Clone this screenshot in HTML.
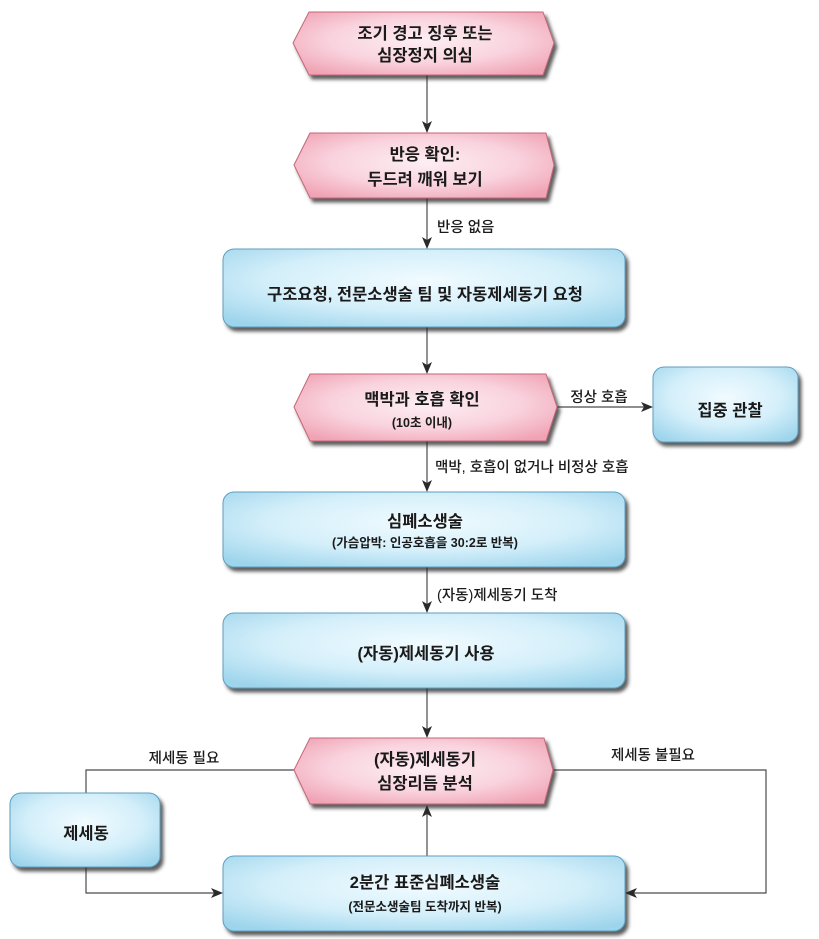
<!DOCTYPE html>
<html><head><meta charset="utf-8"><style>
html,body{margin:0;padding:0;background:#fff;}
svg{display:block;}
text{font-family:"Liberation Sans","Noto Sans CJK KR",sans-serif;fill:#1a1a1a;}
.t{font-size:16.5px;font-weight:bold;}
.s{font-size:12.5px;font-weight:bold;}
.l{font-size:14.5px;font-weight:500;}
</style></head><body>
<svg width="819" height="939" viewBox="0 0 819 939" xmlns="http://www.w3.org/2000/svg">
<defs>
<radialGradient id="pk" cx="50%" cy="45%" r="65%">
<stop offset="0" stop-color="#fdeef3"/><stop offset="0.55" stop-color="#f9d3de"/><stop offset="1" stop-color="#f0a3b4"/>
</radialGradient>
<radialGradient id="bl" cx="50%" cy="40%" r="70%">
<stop offset="0" stop-color="#f1fbff"/><stop offset="0.55" stop-color="#d4effa"/><stop offset="1" stop-color="#9ed5ec"/>
</radialGradient>
<filter id="sh" x="-5%" y="-10%" width="115%" height="130%">
<feDropShadow dx="3" dy="4" stdDeviation="1.8" flood-color="#2a2a2a" flood-opacity="0.75"/>
</filter>
</defs>

<!-- connectors -->
<g stroke="#4a4a4a" stroke-width="1.2" fill="none">
<line x1="427" y1="75" x2="427" y2="124"/>
<line x1="427" y1="198" x2="427" y2="240"/>
<line x1="427" y1="327" x2="427" y2="365"/>
<line x1="557" y1="407" x2="644" y2="407"/>
<line x1="427" y1="441" x2="427" y2="483"/>
<line x1="427" y1="567" x2="427" y2="604"/>
<line x1="427" y1="688" x2="427" y2="729"/>
<line x1="427" y1="856" x2="427" y2="814"/>
<polyline points="294,770 86,770 86,793"/>
<polyline points="86,867 86,893 214,893"/>
<polyline points="553,770 766,770 766,893 634,893"/>
</g>
<g fill="#2a2a2a">
<path d="M422,121 L427,133 L432,121 L427,124 Z"/>
<path d="M422,237 L427,249 L432,237 L427,240 Z"/>
<path d="M422,362 L427,374 L432,362 L427,365 Z"/>
<path d="M641,402 L653,407 L641,412 L644,407 Z"/>
<path d="M422,480 L427,492 L432,480 L427,483 Z"/>
<path d="M422,601 L427,613 L432,601 L427,604 Z"/>
<path d="M422,726 L427,738 L432,726 L427,729 Z"/>
<path d="M422,817 L427,805 L432,817 L427,814 Z"/>
<path d="M211,888 L223,893 L211,898 L214,893 Z"/>
<path d="M637,888 L625,893 L637,898 L634,893 Z"/>
</g>

<!-- hexagons -->
<g fill="url(#pk)" stroke="#c46678" stroke-width="1" filter="url(#sh)">
<polygon points="293,43 309,12 543,12 554,43 543,75 309,75"/>
<polygon points="294,165 310,133 546,133 554,165 546,198 310,198"/>
<polygon points="294,407 310,374 546,374 557,407 546,441 310,441"/>
<polygon points="294,770 310,738 544,738 553,770 544,804 310,804"/>
</g>

<!-- blue boxes -->
<g fill="url(#bl)" stroke="#5d9fc2" stroke-width="1" filter="url(#sh)">
<rect x="223" y="249" width="402" height="78" rx="11"/>
<rect x="653" y="367" width="145" height="75" rx="11"/>
<rect x="223" y="492" width="402" height="75" rx="11"/>
<rect x="223" y="613" width="402" height="75" rx="11"/>
<rect x="10" y="793" width="150" height="74" rx="11"/>
<rect x="223" y="856" width="402" height="75" rx="11"/>
</g>

<!-- node text -->
<g text-anchor="middle">
<text class="t" x="425" y="39">조기 경고 징후 또는</text>
<text class="t" x="425" y="61">심장정지 의심</text>
<text class="t" x="425" y="160">반응 확인:</text>
<text class="t" x="425" y="185">두드려 깨워 보기</text>
<text class="t" x="425" y="300">구조요청, 전문소생술 팀 및 자동제세동기 요청</text>
<text class="t" x="422" y="405">맥박과 호흡 확인</text>
<text class="s" x="422" y="427">(10초 이내)</text>
<text class="t" x="730" y="416">집중 관찰</text>
<text class="t" x="425" y="527">심폐소생술</text>
<text class="s" x="425" y="547">(가슴압박: 인공호흡을 30:2로 반복)</text>
<text class="t" x="426" y="659">(자동)제세동기 사용</text>
<text class="t" x="425" y="765">(자동)제세동기</text>
<text class="t" x="425" y="789">심장리듬 분석</text>
<text class="t" x="86" y="839">제세동</text>
<text class="t" x="425" y="888">2분간 표준심폐소생술</text>
<text class="s" x="425" y="911">(전문소생술팀 도착까지 반복)</text>
</g>

<!-- connector labels -->
<text class="l" x="437" y="232">반응 없음</text>
<text class="l" x="599" y="402" text-anchor="middle">정상 호흡</text>
<text class="l" x="435" y="472">맥박, 호흡이 없거나 비정상 호흡</text>
<text class="l" x="437" y="600">(자동)제세동기 도착</text>
<text class="l" x="184" y="763" text-anchor="middle">제세동 필요</text>
<text class="l" x="653" y="760" text-anchor="middle">제세동 불필요</text>
</svg>
</body></html>
